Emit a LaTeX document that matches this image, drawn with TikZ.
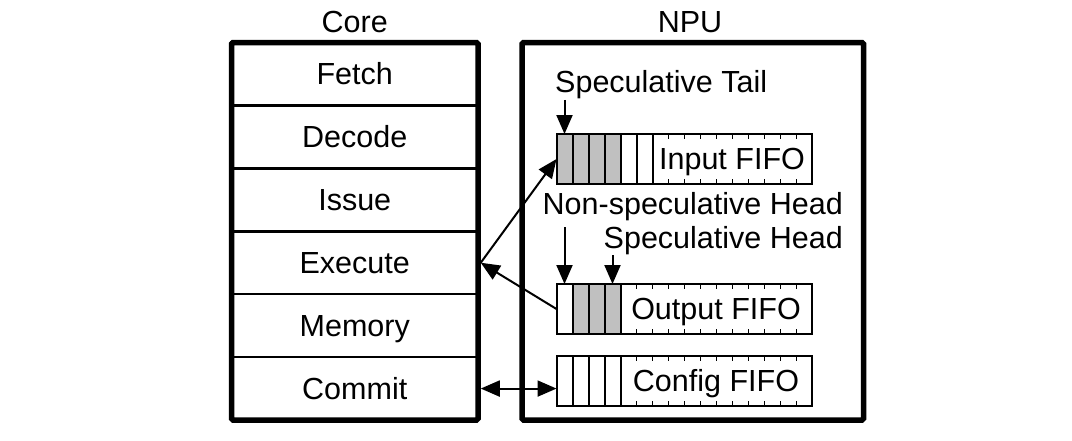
\documentclass[tikz,border=0pt]{standalone}
\usepackage{fontspec}
\setmainfont{Liberation Sans}
\usetikzlibrary{positioning,arrows.meta}
\definecolor{cellgray}{RGB}{192,192,192}
\tikzset{
  lbl/.style={inner sep=0pt, font=\fontsize{30.5}{36}\selectfont, text height=21.5pt, text depth=0pt},
  stage/.style={lbl, draw, line width=2.5pt, minimum width=246.5pt, minimum height=62.92pt, outer sep=0pt},
  unit/.style={draw, line width=5.5pt, rounded corners=1.5pt},
  cell/.style={draw, line width=2pt, minimum width=16pt, minimum height=50pt, inner sep=0pt, outer sep=0pt},
  fifo/.style={lbl, draw, line width=2pt, minimum height=50pt, outer sep=0pt},
  tick/.style={line width=1.3pt},
  link/.style={line width=2pt},
}
\begin{document}
\begin{tikzpicture}[x=1pt, y=-1pt, >={Triangle[length=19pt,width=16pt]}]
 \useasboundingbox (0,0) rectangle (1072,440);
 % core pipeline
 \node[stage] (fetch) at (354.75,73.96) {Fetch};
 \node[stage, below=0pt of fetch] (decode) {Decode};
 \node[stage, below=0pt of decode] (issue) {Issue};
 \node[stage, below=0pt of issue] (execute) {Execute};
 \node[stage, below=0pt of execute] (memory) {Memory};
 \node[stage, below=0pt of memory] (commit) {Commit};
 \node[unit, minimum width=246.5pt, minimum height=377.5pt] (core) at (354.75,231.25) {};
 \node[lbl] (corelbl) at (354.75,21.5) {Core};
 % npu
 \node[unit, minimum width=341.5pt, minimum height=377.5pt] (npu) at (692.75,231.25) {};
 \node[lbl] (npulbl) at (690,21.5) {NPU};
 % fifos
 \node[fifo, minimum width=159pt] (inbuf) at (732,159) {Input FIFO};
 \foreach \i in {1,...,4} \node[cell, fill=cellgray] (in\i) at (548.5+16*\i,159) {};
 \foreach \i in {5,6} \node[cell] (in\i) at (548.5+16*\i,159) {};
 \node[fifo, minimum width=191pt] (outbuf) at (716,309) {Output FIFO};
 \node[cell] (out1) at (564.5,309) {};
 \foreach \i in {2,...,4} \node[cell, fill=cellgray] (out\i) at (548.5+16*\i,309) {};
 \node[fifo, minimum width=191pt] (cfgbuf) at (716,381) {Config FIFO};
 \foreach \i in {1,...,4} \node[cell] (cfg\i) at (548.5+16*\i,381) {};
 \foreach \k in {1,...,9} {
   \draw[tick] ([xshift={16pt*\k}]inbuf.north west) -- ++(0,5);
   \draw[tick] ([xshift={16pt*\k}]inbuf.south west) -- ++(0,-5);
 }
 \foreach \b in {outbuf,cfgbuf}
  \foreach \k in {1,...,11} {
   \draw[tick] ([xshift={16pt*\k}]\b.north west) -- ++(0,5);
   \draw[tick] ([xshift={16pt*\k}]\b.south west) -- ++(0,-5);
  }
 % pointers
 \node[lbl, anchor=west] (stail) at (555,82) {Speculative Tail};
 \node[lbl, anchor=east] (nshead) at (843,203.3) {Non-speculative Head};
 \node[lbl, anchor=east] (shead) at (843,237.3) {Speculative Head};
 \draw[link, ->, shorten <=7pt] (stail.south -| in1.north) -- (in1.north);
 \draw[link, ->, shorten <=13pt] (nshead.south -| out1.north) -- (out1.north);
 \draw[link, ->, shorten <=7pt] (shead.south -| out4.north) -- (out4.north);
 % core <-> npu
 \draw[link, ->] (core.east |- execute) -- (in1.west);
 \draw[link, ->] (out1.west) -- (core.east |- execute);
 \draw[link, <->] (core.east |- commit) -- (cfg1.west |- commit);
\end{tikzpicture}
\end{document}
